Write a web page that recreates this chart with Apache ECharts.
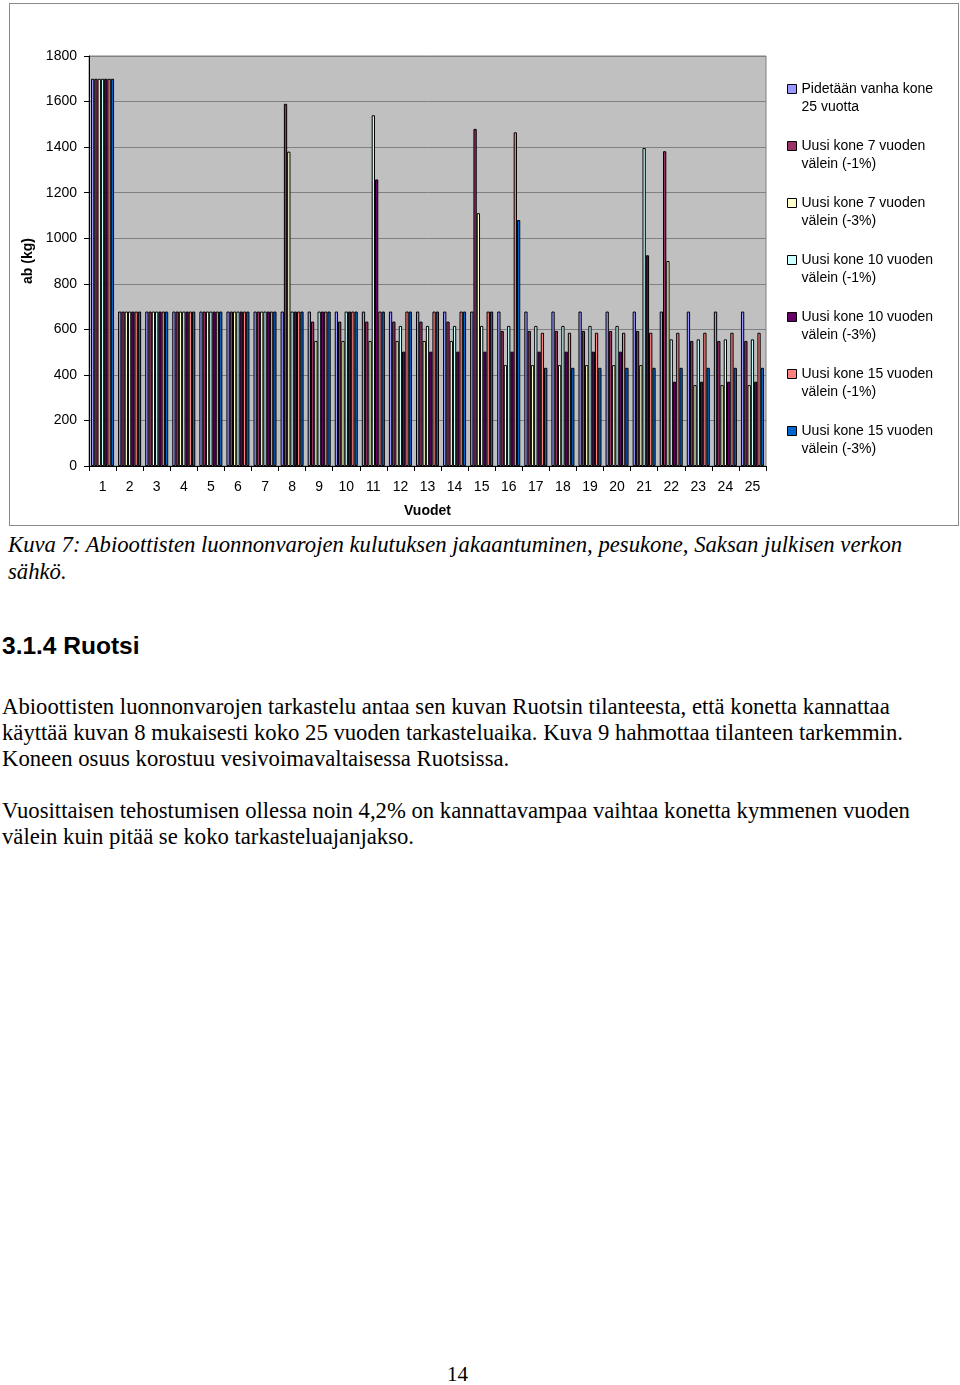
<!DOCTYPE html>
<html>
<head>
<meta charset="utf-8">
<script src="https://cdn.jsdelivr.net/npm/echarts@6/dist/echarts.min.js"></script>
<style>
  html, body { margin: 0; padding: 0; background: #fff; }
  body { width: 960px; height: 1385px; position: relative; overflow: hidden; }
  #frame { position: absolute; left: 9px; top: 3px; width: 948px; height: 521px; border: 1px solid #8a8a8a; box-sizing: content-box; }
  #chart { position: absolute; left: 0; top: 0; width: 960px; height: 530px; }
  .serif { font-family: "Liberation Serif", "DejaVu Serif", serif; color: #000; }
  #caption { position: absolute; left: 8px; top: 531px; font-size: 22.7px; font-style: italic; line-height: 27px; white-space: pre; }
  #heading { position: absolute; left: 2px; top: 632px; font-family: "Liberation Sans", Arial, sans-serif; font-weight: bold; font-size: 24.5px; white-space: pre; }
  .para { position: absolute; left: 2px; font-size: 22.7px; line-height: 26px; white-space: pre; }
  #p1 { top: 694px; }
  #p2 { top: 798px; }
  #pagenum { position: absolute; left: 447px; top: 1362px; font-size: 21px; }
</style>
</head>
<body>
<div id="frame"></div>
<div id="chart"></div>
<div id="caption" class="serif">Kuva 7: Abioottisten luonnonvarojen kulutuksen jakaantuminen, pesukone, Saksan julkisen verkon
sähkö.</div>
<div id="heading">3.1.4 Ruotsi</div>
<div id="p1" class="para serif">Abioottisten luonnonvarojen tarkastelu antaa sen kuvan Ruotsin tilanteesta, että konetta kannattaa
käyttää kuvan 8 mukaisesti koko 25 vuoden tarkasteluaika. Kuva 9 hahmottaa tilanteen tarkemmin.
Koneen osuus korostuu vesivoimavaltaisessa Ruotsissa.</div>
<div id="p2" class="para serif">Vuosittaisen tehostumisen ollessa noin 4,2% on kannattavampaa vaihtaa konetta kymmenen vuoden
välein kuin pitää se koko tarkasteluajanjakso.</div>
<div id="pagenum" class="serif">14</div>
<script>
const years = ['1','2','3','4','5','6','7','8','9','10','11','12','13','14','15','16','17','18','19','20','21','22','23','24','25'];
const yTicks = [0, 200, 400, 600, 800, 1000, 1200, 1400, 1600, 1800];

const seriesNames = [
  'Pidetään vanha kone\n25 vuotta',
  'Uusi kone 7 vuoden\nvälein (-1%)',
  'Uusi kone 7 vuoden\nvälein (-3%)',
  'Uusi kone 10 vuoden\nvälein (-1%)',
  'Uusi kone 10 vuoden\nvälein (-3%)',
  'Uusi kone 15 vuoden\nvälein (-1%)',
  'Uusi kone 15 vuoden\nvälein (-3%)'
];

//                1     2    3    4    5    6    7    8     9    10   11    12   13   14   15    16    17   18   19   20   21    22    23   24   25
const vanha   = [1700, 678, 678, 678, 678, 678, 678, 678,  678, 678, 678,  678, 678, 678, 678,  678,  678, 678, 678, 678, 678,  678,  678, 678, 678];
const v7m1    = [1700, 678, 678, 678, 678, 678, 678, 1590, 634, 634, 634,  634, 634, 634, 1480, 593,  593, 593, 593, 593, 593,  1382, 549, 549, 549];
const v7m3    = [1700, 678, 678, 678, 678, 678, 678, 1380, 549, 549, 549,  549, 549, 549, 1110, 443,  443, 443, 443, 443, 443,  900,  355, 355, 355];
const v10m1   = [1700, 678, 678, 678, 678, 678, 678, 678,  678, 678, 1540, 615, 615, 615, 615,  615,  615, 615, 615, 615, 1396, 556,  556, 556, 556];
const v10m3   = [1700, 678, 678, 678, 678, 678, 678, 678,  678, 678, 1258, 502, 502, 502, 502,  502,  502, 502, 502, 502, 925,  370,  370, 370, 370];
const v15m1   = [1700, 678, 678, 678, 678, 678, 678, 678,  678, 678, 678,  678, 678, 678, 678,  1465, 585, 585, 585, 585, 585,  585,  585, 585, 585];
const v15m3   = [1700, 678, 678, 678, 678, 678, 678, 678,  678, 678, 678,  678, 678, 678, 678,  1080, 431, 431, 431, 431, 431,  431,  431, 431, 431];

const seriesData = [vanha, v7m1, v7m3, v10m1, v10m3, v15m1, v15m3];
const colors = ['#9999FF', '#993366', '#FFFFCC', '#CCFFFF', '#660066', '#FF8080', '#0066CC'];

const chart = echarts.init(document.getElementById('chart'), null, { renderer: 'canvas' });
const font = '"Liberation Sans", Arial, sans-serif';

// legend marker: a 9x9 square placed at the top of a 9x27 box so it lines up with the first text line
const legendIcon = 'path://M0,0L9,0L9,9L0,9Z M0,27L0.001,27Z';

chart.setOption({
  animation: false,
  backgroundColor: 'transparent',
  color: colors,
  textStyle: { fontFamily: font },
  grid: {
    left: 89, right: 194, top: 56, bottom: 64,
    show: true, backgroundColor: '#C0C0C0', borderColor: '#808080', borderWidth: 1,
    containLabel: false
  },
  legend: {
    orient: 'vertical',
    left: 787, top: 71,
    padding: 0,
    itemWidth: 9, itemHeight: 27,
    itemGap: 3,
    icon: legendIcon,
    selectedMode: false,
    itemStyle: { borderColor: '#000', borderWidth: 1 },
    textStyle: { fontFamily: font, fontSize: 14, color: '#000', lineHeight: 18, padding: [18, 0, 0, 0] },
    data: seriesNames
  },
  xAxis: {
    type: 'category',
    data: years,
    boundaryGap: true,
    name: 'Vuodet',
    nameLocation: 'middle',
    nameGap: 38,
    nameTextStyle: { fontFamily: font, fontSize: 14, fontWeight: 'bold', color: '#000' },
    axisLine: { lineStyle: { color: '#000', width: 1 } },
    axisTick: { show: true, alignWithLabel: false, length: 5, lineStyle: { color: '#000' } },
    axisLabel: { fontFamily: font, fontSize: 14, color: '#000', margin: 14, interval: 0 },
    splitLine: { show: false }
  },
  yAxis: {
    type: 'value',
    min: yTicks[0], max: yTicks[yTicks.length - 1], interval: 200,
    name: 'ab (kg)',
    nameLocation: 'middle',
    nameRotate: 90,
    nameGap: 45,
    nameTextStyle: { fontFamily: font, fontSize: 14, fontWeight: 'bold', color: '#000' },
    axisLine: { show: true, lineStyle: { color: '#000', width: 1 } },
    axisTick: { show: true, length: 5, inside: false, lineStyle: { color: '#000' } },
    axisLabel: { fontFamily: font, fontSize: 14, color: '#000', margin: 12, formatter: v => String(v) },
    splitLine: { show: true, lineStyle: { color: '#808080', width: 1 } }
  },
  series: seriesData.map((d, i) => ({
    name: seriesNames[i],
    type: 'bar',
    data: d,
    barGap: '0%',
    barCategoryGap: '15%',
    itemStyle: { color: colors[i], borderColor: '#000', borderWidth: 1 },
    emphasis: { disabled: true }
  }))
});
</script>
</body>
</html>
